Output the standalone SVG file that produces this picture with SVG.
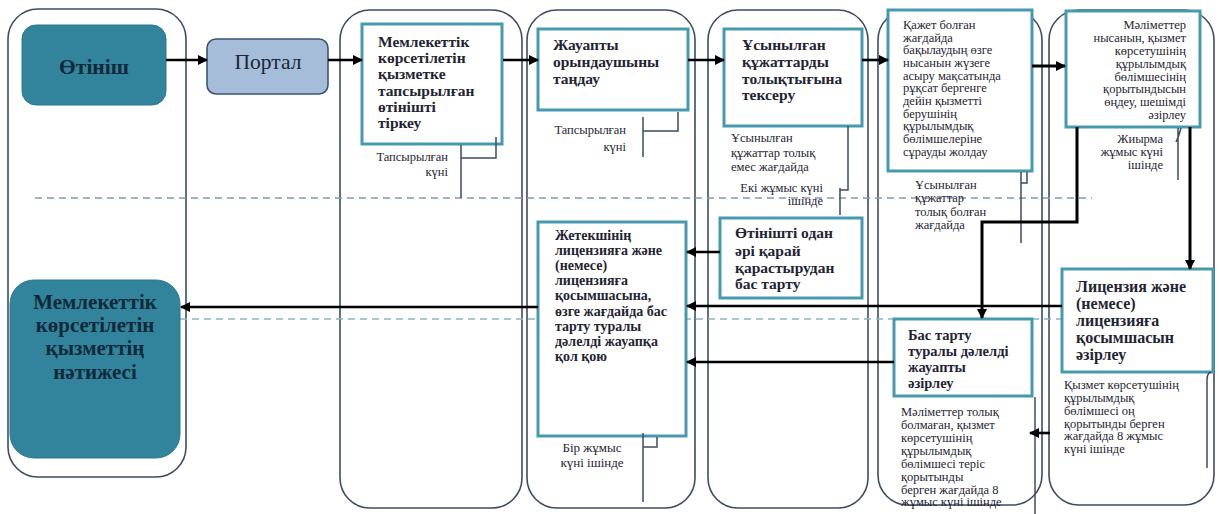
<svg xmlns="http://www.w3.org/2000/svg" width="1220" height="514" viewBox="0 0 1220 514" font-family="'Liberation Serif', 'Times New Roman', 'DejaVu Serif', serif">
<style>
.lane{fill:none;stroke:#3D4B63;stroke-width:1.6}
.box{fill:#fff;stroke:#4799AE;stroke-width:3}
.term{fill:#31849B;stroke:#2C7890;stroke-width:1}
.portal{fill:#A6BDDA;stroke:#3C5471;stroke-width:1.6}
.dash1{stroke:#7F9AB5;stroke-width:1.4;stroke-dasharray:7 5;fill:none}
.dash2{stroke:#8AB4BE;stroke-width:1.4;stroke-dasharray:7 5;fill:none}
.arr{stroke:#000;stroke-width:2.6;fill:none;marker-end:url(#ah)}
.br{stroke:#3D4B63;stroke-width:1.5;fill:none}
text, tspan{font-family:'Liberation Serif','Times New Roman','DejaVu Serif',serif}
text{fill:#1F2533}
.b15{font-size:15.5px;font-weight:bold}
.b14{font-size:14px;font-weight:bold}
.b16{font-size:16px;font-weight:bold}
.n12{font-size:12.5px}
.t20{font-size:21.5px;font-weight:bold;fill:#10293A}
.t21{font-size:21px;font-weight:bold;fill:#10293A}
.p20{font-size:21.5px;fill:#1A2536}
</style>
<defs>
<marker id="ah" viewBox="0 0 10 10" refX="9" refY="5" markerUnits="userSpaceOnUse" markerWidth="11" markerHeight="10" orient="auto">
<path d="M0,0 L10,5 L0,10 z" fill="#000"/>
</marker>
</defs>

<g id="lanes">
<rect class="lane" x="8" y="9" width="178" height="468" rx="30"/>
<rect class="lane" x="340" y="10" width="182" height="498" rx="30"/>
<rect class="lane" x="527" y="10" width="168" height="498" rx="30"/>
<rect class="lane" x="708" y="10" width="160" height="498" rx="30"/>
<rect class="lane" x="878" y="10" width="164" height="495" rx="30"/>
<rect class="lane" x="1049" y="10" width="165" height="495" rx="30"/>
</g>

<g id="dividers">
<line class="dash1" x1="35" y1="198" x2="1092" y2="198"/>
<line class="dash2" x1="180" y1="319" x2="1065" y2="319"/>
</g>

<g id="n1">
<rect class="term" x="22" y="25" width="144" height="80" rx="14"/>
<text class="t20" x="94" y="74" text-anchor="middle">Өтініш</text>
</g>

<g id="n2">
<rect class="portal" x="207" y="39" width="121" height="55" rx="9"/>
<text class="p20" x="268" y="69" text-anchor="middle">Портал</text>
</g>

<g id="n3">
<rect class="box" x="362" y="24" width="140" height="120"/>
<text class="b15"><tspan x="378" y="47">Мемлекеттік</tspan><tspan x="378" y="63">көрсетілетін</tspan><tspan x="378" y="79">қызметке</tspan><tspan x="378" y="96">тапсырылған</tspan><tspan x="378" y="112">өтінішті</tspan><tspan x="378" y="128">тіркеу</tspan></text>
<text class="n12" text-anchor="end"><tspan x="448" y="161">Тапсырылған</tspan><tspan x="448" y="176">күні</tspan></text>
<path class="br" d="M496,137 V158 H461 M461,145 V198"/>
</g>

<g id="n4">
<rect class="box" x="538" y="29" width="150" height="81"/>
<text class="b15"><tspan x="553" y="50">Жауапты</tspan><tspan x="553" y="67">орындаушыны</tspan><tspan x="553" y="84">таңдау</tspan></text>
<text class="n12" text-anchor="end"><tspan x="626" y="134">Тапсырылған</tspan><tspan x="626" y="151">күні</tspan></text>
<path class="br" d="M678,112 V131 H643 M643,117 V157"/>
</g>

<g id="n5">
<rect class="box" x="724" y="29" width="138" height="97"/>
<text class="b15"><tspan x="742" y="50">Ұсынылған</tspan><tspan x="742" y="67">құжаттарды</tspan><tspan x="742" y="84">толықтығына</tspan><tspan x="742" y="100">тексеру</tspan></text>
<text class="n12"><tspan x="731" y="142">Ұсынылған</tspan><tspan x="731" y="157">құжаттар толық</tspan><tspan x="731" y="171">емес жағдайда</tspan></text>
<text class="n12" text-anchor="end"><tspan x="823" y="192">Екі жұмыс күні</tspan><tspan x="823" y="205">ішінде</tspan></text>
<path class="br" d="M848,126 V190 H840 M840,188 V215"/>
</g>

<g id="n6">
<rect class="box" x="888" y="10" width="144" height="161"/>
<text class="n12"><tspan x="903" y="29">Қажет болған</tspan><tspan x="903" y="42">жағдайда</tspan><tspan x="903" y="54">бақылаудың өзге</tspan><tspan x="903" y="67">нысанын жүзеге</tspan><tspan x="903" y="80">асыру мақсатында</tspan><tspan x="903" y="92">рұқсат бергенге</tspan><tspan x="903" y="105">дейін қызметті</tspan><tspan x="903" y="118">берушінің</tspan><tspan x="903" y="130">құрылымдық</tspan><tspan x="903" y="143">бөлімшелеріне</tspan><tspan x="903" y="156">сұрауды жолдау</tspan></text>
<text class="n12"><tspan x="915" y="189">Ұсынылған</tspan><tspan x="915" y="202">құжаттар</tspan><tspan x="915" y="216">толық  болған</tspan><tspan x="915" y="229">жағдайда</tspan></text>
<path class="br" d="M1027,172 V183 H1021 M1021,172 V243"/>
</g>

<g id="n7">
<rect class="box" x="1066" y="11" width="134" height="116"/>
<text class="n12" text-anchor="end"><tspan x="1186" y="29">Мәліметтер</tspan><tspan x="1186" y="42">нысанын, қызмет</tspan><tspan x="1186" y="55">көрсетушінің</tspan><tspan x="1186" y="68">құрылымдық</tspan><tspan x="1186" y="81">бөлімшесінің</tspan><tspan x="1186" y="93">қорытындысын</tspan><tspan x="1186" y="106">өңдеу, шешімді</tspan><tspan x="1186" y="119">әзірлеу</tspan></text>
<text class="n12" text-anchor="end"><tspan x="1163" y="143">Жиырма</tspan><tspan x="1163" y="156">жұмыс күні</tspan><tspan x="1163" y="169">ішінде</tspan></text>
<path class="br" d="M1181,128 Q1179,136 1176,142 M1178,128 V180"/>
</g>

<g id="n8">
<rect class="box" x="720" y="218" width="142" height="80"/>
<text class="b15"><tspan x="735" y="238">Өтінішті одан</tspan><tspan x="735" y="256">әрі қарай</tspan><tspan x="735" y="273">қарастырудан</tspan><tspan x="735" y="289">бас тарту</tspan></text>
</g>

<g id="n9">
<rect class="box" x="1062" y="269" width="151" height="103"/>
<text class="b16"><tspan x="1076" y="292">Лицензия және</tspan><tspan x="1076" y="309">(немесе)</tspan><tspan x="1076" y="326">лицензияға</tspan><tspan x="1076" y="343">қосымшасын</tspan><tspan x="1076" y="360">әзірлеу</tspan></text>
<text class="n12"><tspan x="1064" y="389">Қызмет көрсетушінің</tspan><tspan x="1064" y="402">құрылымдық</tspan><tspan x="1064" y="415">бөлімшесі оң</tspan><tspan x="1064" y="428">қорытынды берген</tspan><tspan x="1064" y="440">жағдайда 8 жұмыс</tspan><tspan x="1064" y="453">күні ішінде</tspan></text>
<path class="br" d="M1207,468 V380 Q1207,373 1211,372"/>
</g>

<g id="n10">
<rect class="box" x="894" y="319" width="138" height="77"/>
<text class="b14" style="font-size:14.5px"><tspan x="908" y="340">Бас тарту</tspan><tspan x="908" y="356">туралы дәлелді</tspan><tspan x="908" y="372">жауапты</tspan><tspan x="908" y="388">әзірлеу</tspan></text>
<text class="n12"><tspan x="901" y="416">Мәліметтер толық</tspan><tspan x="901" y="429">болмаған, қызмет</tspan><tspan x="901" y="442">көрсетушінің</tspan><tspan x="901" y="455">құрылымдық</tspan><tspan x="901" y="468">бөлімшесі теріс</tspan><tspan x="901" y="481">қорытынды</tspan><tspan x="901" y="494">берген жағдайда 8</tspan><tspan x="901" y="506">жұмыс күні ішінде</tspan></text>
<path class="br" d="M1035,397 V514"/>
</g>

<g id="n11">
<rect class="box" x="538" y="222" width="148" height="214"/>
<text class="b14"><tspan x="555" y="240">Жетекшінің</tspan><tspan x="555" y="255">лицензияға және</tspan><tspan x="555" y="270">(немесе)</tspan><tspan x="555" y="285">лицензияға</tspan><tspan x="555" y="300">қосымшасына,</tspan><tspan x="555" y="316">өзге жағдайда бас</tspan><tspan x="555" y="331">тарту туралы</tspan><tspan x="555" y="346">дәлелді жауапқа</tspan><tspan x="555" y="361">қол қою</tspan></text>
<text class="n12" style="font-size:13px" text-anchor="middle"><tspan x="592" y="452">Бір жұмыс</tspan><tspan x="592" y="467">күні ішінде</tspan></text>
<path class="br" d="M657,437 V447 H643 M643,433 V502"/>
</g>

<g id="n12">
<rect class="term" x="10" y="280" width="170" height="178" rx="24"/>
<text class="t21" text-anchor="middle"><tspan x="95" y="309">Мемлекеттік</tspan><tspan x="95" y="332">көрсетілетін</tspan><tspan x="95" y="355">қызметтің</tspan><tspan x="95" y="379">нәтижесі</tspan></text>
</g>

<g id="connectors">
<line class="arr" x1="166" y1="60" x2="207" y2="60"/>
<line class="arr" x1="328" y1="60" x2="362" y2="60"/>
<line class="arr" x1="503" y1="60" x2="538" y2="60"/>
<line class="arr" x1="688" y1="60" x2="724" y2="60"/>
<line class="arr" x1="862" y1="60" x2="888" y2="60"/>
<line class="arr" style="stroke-width:3" x1="1032" y1="66" x2="1065" y2="66"/>
<line class="arr" style="stroke-width:3" x1="1190" y1="127" x2="1190" y2="269"/>
<path class="arr" style="stroke-width:3" d="M1077,127 V222 H982 V318"/>
<line class="arr" x1="720" y1="252" x2="687" y2="252"/>
<line class="arr" x1="1062" y1="306" x2="687" y2="306"/>
<line class="arr" x1="538" y1="307" x2="181" y2="307"/>
<line class="arr" x1="894" y1="362" x2="687" y2="362"/>
<line class="arr" x1="1050" y1="433" x2="1030" y2="433"/>
</g>
</svg>
